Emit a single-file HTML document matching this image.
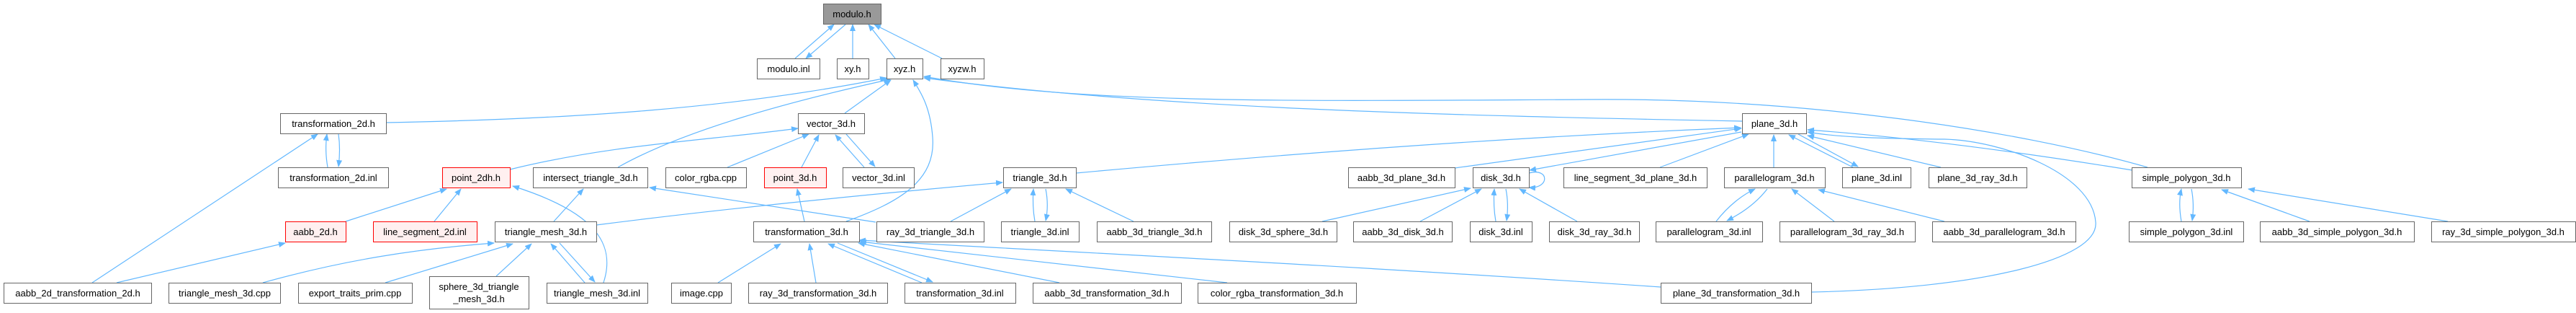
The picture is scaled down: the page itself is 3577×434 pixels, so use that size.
<!DOCTYPE html>
<html><head><meta charset="utf-8"><style>
html,body{margin:0;padding:0;background:#fff;}
svg{display:block;}
text{font-family:"Liberation Sans","DejaVu Sans",sans-serif;font-size:13px;fill:#000;text-anchor:middle;}
.n{fill:#fff;stroke:#666;stroke-width:1;}
.r{fill:#fff0f0;stroke:#f00;stroke-width:1;}
.g{fill:#999;stroke:#666;stroke-width:1;}
.e{fill:none;stroke:#63b8ff;stroke-width:1.2;marker-end:url(#a);}
</style></head><body>
<svg width="3577" height="434" viewBox="0 0 3577 434" xmlns="http://www.w3.org/2000/svg">
<defs><marker id="a" markerWidth="10" markerHeight="8" refX="9" refY="4" orient="auto" markerUnits="userSpaceOnUse"><path d="M0,0 L10,4 L0,8 z" fill="#63b8ff"/></marker></defs>
<g>
<path class="e" d="M1104,81 L1158,34"/><path class="e" d="M1174,34 L1119,81"/>
<path class="e" d="M1184,81 L1184,34"/>
<path class="e" d="M1243,81 L1206,34"/>
<path class="e" d="M1308,81 L1214,34"/>
<path class="e" d="M536,170 C800,165 1020,150 1231,108"/>
<path class="e" d="M858,232 C950,180 1100,140 1236,110"/>
<path class="e" d="M708,235 C850,200 980,195 1108,178"/>
<path class="e" d="M1173,157 L1237,111"/>
<path class="e" d="M1010,232 L1123,186"/>
<path class="e" d="M1113,232 L1137,187"/>
<path class="e" d="M1200,232 L1160,187"/><path class="e" d="M1175,186 L1215,231"/>
<path class="e" d="M1175,307 C1250,280 1300,250 1295,190 C1292,150 1280,130 1268,111"/>
<path class="e" d="M1117,307 L1107,262"/>
<path class="e" d="M2419,168 C2000,160 1600,150 1283,108"/>
<path class="e" d="M2982,232 C2800,180 2500,135 2200,138 C1800,140 1500,145 1283,106"/>
<path class="e" d="M1494,240 C1800,212 2100,190 2417,177"/>
<path class="e" d="M828,312 C1000,290 1200,270 1392,253"/>
<path class="e" d="M1216,308 C1100,290 1000,275 902,260"/>
<path class="e" d="M769,307 L810,262"/>
<path class="e" d="M480,307 L620,262"/>
<path class="e" d="M603,307 L640,262"/>
<path class="e" d="M838,392 C855,340 830,295 712,258"/>
<path class="e" d="M812,392 L765,338"/><path class="e" d="M777,337 L826,391"/>
<path class="e" d="M128,392 L441,186"/>
<path class="e" d="M162,392 L396,337"/>
<path class="e" d="M455,232 C452,215 452,200 454,186"/><path class="e" d="M470,186 C472,200 472,215 470,231"/>
<path class="e" d="M365,392 C480,360 580,345 686,337"/>
<path class="e" d="M535,392 L712,338"/>
<path class="e" d="M689,383 L738,338"/>
<path class="e" d="M1320,307 L1404,262"/>
<path class="e" d="M1437,307 C1434,290 1434,275 1435,262"/><path class="e" d="M1452,262 C1455,277 1455,292 1452,306"/>
<path class="e" d="M1574,307 L1480,262"/>
<path class="e" d="M2020,233 L2418,178"/>
<path class="e" d="M2418,183 L2124,236"/>
<path class="e" d="M2123,240 C2152,232 2152,262 2123,260"/>
<path class="e" d="M2305,232 L2428,186"/>
<path class="e" d="M2463,232 L2463,187"/>
<path class="e" d="M2573,232 L2484,187"/><path class="e" d="M2497,186 L2580,231"/>
<path class="e" d="M2695,232 L2510,188"/>
<path class="e" d="M2961,236 C2800,210 2650,190 2510,180"/>
<path class="e" d="M2515,405 C2750,400 2915,360 2910,308 C2905,240 2780,195 2700,193 C2600,192 2550,190 2510,183"/>
<path class="e" d="M1836,307 L2042,261"/>
<path class="e" d="M1972,307 L2057,262"/>
<path class="e" d="M2077,307 C2074,290 2074,275 2075,262"/><path class="e" d="M2091,262 C2094,277 2094,292 2092,306"/>
<path class="e" d="M2190,307 L2110,262"/>
<path class="e" d="M2383,307 C2400,285 2420,270 2437,262"/><path class="e" d="M2454,262 C2440,280 2420,295 2398,306"/>
<path class="e" d="M2547,307 L2488,262"/>
<path class="e" d="M2700,307 L2525,263"/>
<path class="e" d="M3029,307 C3026,290 3026,275 3029,262"/><path class="e" d="M3043,262 C3046,277 3046,292 3044,306"/>
<path class="e" d="M3207,307 L3085,263"/>
<path class="e" d="M3399,307 L3122,262"/>
<path class="e" d="M997,392 L1084,338"/>
<path class="e" d="M1133,392 L1124,338"/>
<path class="e" d="M1280,392 L1150,338"/><path class="e" d="M1163,337 L1295,391"/>
<path class="e" d="M1471,392 L1192,337"/>
<path class="e" d="M1704,392 L1194,335"/>
<path class="e" d="M2306,398 C1900,370 1500,350 1193,333"/>
</g>
<g>
<rect class="g" x="1143.5" y="5.5" width="80" height="28"/><text x="1183" y="24">modulo.h</text>
<rect class="n" x="1051.5" y="81.5" width="87" height="28"/><text x="1095" y="100">modulo.inl</text>
<rect class="n" x="1162.5" y="81.5" width="44" height="28"/><text x="1184" y="100">xy.h</text>
<rect class="n" x="1231.5" y="81.5" width="50" height="28"/><text x="1256" y="100">xyz.h</text>
<rect class="n" x="1306.5" y="81.5" width="60" height="28"/><text x="1336" y="100">xyzw.h</text>

<rect class="n" x="389.5" y="157.5" width="147" height="28"/><text x="463" y="176">transformation_2d.h</text>
<rect class="n" x="1108.5" y="157.5" width="92" height="28"/><text x="1154" y="176">vector_3d.h</text>
<rect class="n" x="2419.5" y="157.5" width="89" height="28"/><text x="2464" y="176">plane_3d.h</text>

<rect class="n" x="386.5" y="232.5" width="153" height="28"/><text x="463" y="251">transformation_2d.inl</text>
<rect class="r" x="614.5" y="232.5" width="94" height="28"/><text x="661" y="251">point_2dh.h</text>
<rect class="n" x="740.5" y="232.5" width="159" height="28"/><text x="820" y="251">intersect_triangle_3d.h</text>
<rect class="n" x="924.5" y="232.5" width="112" height="28"/><text x="980" y="251">color_rgba.cpp</text>
<rect class="r" x="1061.5" y="232.5" width="86" height="28"/><text x="1104" y="251">point_3d.h</text>
<rect class="n" x="1170.5" y="232.5" width="99" height="28"/><text x="1220" y="251">vector_3d.inl</text>
<rect class="n" x="1393.5" y="232.5" width="101" height="28"/><text x="1444" y="251">triangle_3d.h</text>
<rect class="n" x="1872.5" y="232.5" width="148" height="28"/><text x="1946" y="251">aabb_3d_plane_3d.h</text>
<rect class="n" x="2045.5" y="232.5" width="78" height="28"/><text x="2084" y="251">disk_3d.h</text>
<rect class="n" x="2171.5" y="232.5" width="199" height="28"/><text x="2271" y="251">line_segment_3d_plane_3d.h</text>
<rect class="n" x="2394.5" y="232.5" width="140" height="28"/><text x="2464" y="251">parallelogram_3d.h</text>
<rect class="n" x="2558.5" y="232.5" width="95" height="28"/><text x="2606" y="251">plane_3d.inl</text>
<rect class="n" x="2678.5" y="232.5" width="136" height="28"/><text x="2746" y="251">plane_3d_ray_3d.h</text>
<rect class="n" x="2960.5" y="232.5" width="152" height="28"/><text x="3036" y="251">simple_polygon_3d.h</text>

<rect class="r" x="396.5" y="307.5" width="84" height="28"/><text x="438" y="326">aabb_2d.h</text>
<rect class="r" x="518.5" y="307.5" width="144" height="28"/><text x="590" y="326">line_segment_2d.inl</text>
<rect class="n" x="687.5" y="307.5" width="141" height="28"/><text x="758" y="326">triangle_mesh_3d.h</text>
<rect class="n" x="1046.5" y="307.5" width="147" height="28"/><text x="1120" y="326">transformation_3d.h</text>
<rect class="n" x="1217.5" y="307.5" width="149" height="28"/><text x="1292" y="326">ray_3d_triangle_3d.h</text>
<rect class="n" x="1390.5" y="307.5" width="108" height="28"/><text x="1444" y="326">triangle_3d.inl</text>
<rect class="n" x="1523.5" y="307.5" width="159" height="28"/><text x="1603" y="326">aabb_3d_triangle_3d.h</text>
<rect class="n" x="1707.5" y="307.5" width="149" height="28"/><text x="1782" y="326">disk_3d_sphere_3d.h</text>
<rect class="n" x="1879.5" y="307.5" width="137" height="28"/><text x="1948" y="326">aabb_3d_disk_3d.h</text>
<rect class="n" x="2041.5" y="307.5" width="86" height="28"/><text x="2084" y="326">disk_3d.inl</text>
<rect class="n" x="2151.5" y="307.5" width="125" height="28"/><text x="2214" y="326">disk_3d_ray_3d.h</text>
<rect class="n" x="2299.5" y="307.5" width="148" height="28"/><text x="2373" y="326">parallelogram_3d.inl</text>
<rect class="n" x="2471.5" y="307.5" width="188" height="28"/><text x="2565" y="326">parallelogram_3d_ray_3d.h</text>
<rect class="n" x="2683.5" y="307.5" width="199" height="28"/><text x="2783" y="326">aabb_3d_parallelogram_3d.h</text>
<rect class="n" x="2956.5" y="307.5" width="159" height="28"/><text x="3036" y="326">simple_polygon_3d.inl</text>
<rect class="n" x="3138.5" y="307.5" width="214" height="28"/><text x="3245" y="326">aabb_3d_simple_polygon_3d.h</text>
<rect class="n" x="3376.5" y="307.5" width="200" height="28"/><text x="3476" y="326">ray_3d_simple_polygon_3d.h</text>

<rect class="n" x="5.5" y="392.5" width="205" height="28"/><text x="108" y="411">aabb_2d_transformation_2d.h</text>
<rect class="n" x="234.5" y="392.5" width="155" height="28"/><text x="312" y="411">triangle_mesh_3d.cpp</text>
<rect class="n" x="414.5" y="392.5" width="158" height="28"/><text x="493" y="411">export_traits_prim.cpp</text>
<rect class="n" x="596.5" y="383.5" width="138" height="45"/><text x="665" y="402">sphere_3d_triangle</text><text x="665" y="419">_mesh_3d.h</text>
<rect class="n" x="759.5" y="392.5" width="140" height="28"/><text x="829" y="411">triangle_mesh_3d.inl</text>
<rect class="n" x="932.5" y="392.5" width="83" height="28"/><text x="974" y="411">image.cpp</text>
<rect class="n" x="1039.5" y="392.5" width="193" height="28"/><text x="1136" y="411">ray_3d_transformation_3d.h</text>
<rect class="n" x="1256.5" y="392.5" width="154" height="28"/><text x="1333" y="411">transformation_3d.inl</text>
<rect class="n" x="1434.5" y="392.5" width="206" height="28"/><text x="1537" y="411">aabb_3d_transformation_3d.h</text>
<rect class="n" x="1663.5" y="392.5" width="220" height="28"/><text x="1773" y="411">color_rgba_transformation_3d.h</text>
<rect class="n" x="2306.5" y="392.5" width="209" height="28"/><text x="2411" y="411">plane_3d_transformation_3d.h</text>
</g>
</svg>
</body></html>
